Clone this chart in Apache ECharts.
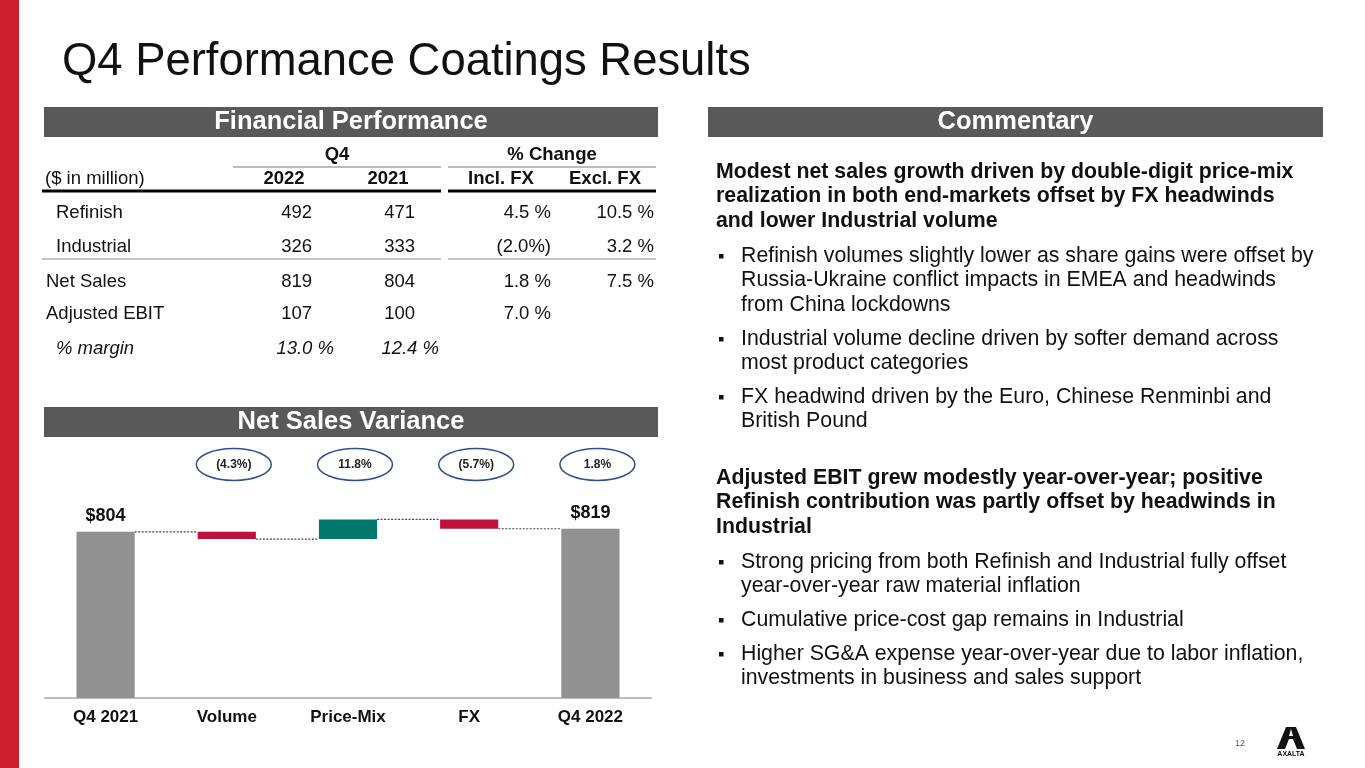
<!DOCTYPE html>
<html>
<head>
<meta charset="utf-8">
<script src="https://cdn.jsdelivr.net/npm/echarts@6/dist/echarts.min.js"></script>
<style>
html,body{margin:0;padding:0;background:#fff;}
#c{width:1365px;height:768px;}
</style>
</head>
<body>
<div id="c"></div>
<script>
// ---------- DATA ----------
const categories = ['Q4 2021', 'Volume', 'Price-Mix', 'FX', 'Q4 2022'];
const totals = [804, null, null, null, 819];
const deltas = [null, -35, 95, -45, null];
const pctLabels = [null, '(4.3%)', '11.8%', '(5.7%)', '1.8%'];

const tableGroupHeads = ['Q4', '% Change'];
const tableColHeads = ['($ in million)', '2022', '2021', 'Incl. FX', 'Excl. FX'];
const rowNames = ['Refinish', 'Industrial', 'Net Sales', 'Adjusted EBIT', '% margin'];
const col2022 = ['492', '326', '819', '107', '13.0 %'];
const col2021 = ['471', '333', '804', '100', '12.4 %'];
const colInclFx = ['4.5 %', '(2.0%)', '1.8 %', '7.0 %', ''];
const colExclFx = ['10.5 %', '3.2 %', '7.5 %', '', ''];

const titleText = 'Q4 Performance Coatings Results';
const sectionHeads = ['Financial Performance', 'Commentary', 'Net Sales Variance'];
const commentary = [
  {bold: true, lines: ['Modest net sales growth driven by double-digit price-mix', 'realization in both end-markets offset by FX headwinds', 'and lower Industrial volume']},
  {bold: false, lines: ['Refinish volumes slightly lower as share gains were offset by', 'Russia-Ukraine conflict impacts in EMEA and headwinds', 'from China lockdowns']},
  {bold: false, lines: ['Industrial volume decline driven by softer demand across', 'most product categories']},
  {bold: false, lines: ['FX headwind driven by the Euro, Chinese Renminbi and', 'British Pound']},
  {bold: true, lines: ['Adjusted EBIT grew modestly year-over-year; positive', 'Refinish contribution was partly offset by headwinds in', 'Industrial']},
  {bold: false, lines: ['Strong pricing from both Refinish and Industrial fully offset', 'year-over-year raw material inflation']},
  {bold: false, lines: ['Cumulative price-cost gap remains in Industrial']},
  {bold: false, lines: ['Higher SG&A expense year-over-year due to labor inflation,', 'investments in business and sales support']}
];
const pageNumber = '12';

// ---------- LAYOUT / STYLE ----------
const FONT = "'Liberation Sans', Arial, 'DejaVu Sans', sans-serif";
const C_GRAY = '#919191', C_RED = '#C10F3E', C_TEAL = '#00786C', C_HEAD = '#595959';

// waterfall computation
const base = [], height = [], colors = [], levels = [];
let running = 0;
categories.forEach((c, i) => {
  if (totals[i] != null) {
    base.push(0); height.push(totals[i]); colors.push(C_GRAY); running = totals[i];
  } else {
    const s = running, e = running + deltas[i];
    base.push(Math.min(s, e)); height.push(Math.abs(deltas[i]));
    colors.push(deltas[i] < 0 ? C_RED : C_TEAL); running = e;
  }
  levels.push(running);
});
const BAR_FRAC = 0.48;

// ---------- GRAPHIC (slide elements) ----------
const g = [];
g.push({type: 'rect', shape: {x: 0, y: 0, width: 19, height: 768}, style: {fill: '#CC1F2D'}});
g.push({type: 'text', x: 62, y: 62, style: {text: titleText, font: '45.4px ' + FONT, fill: '#111', align: 'left', verticalAlign: 'middle'}});

const heads = [[44, 107, 614, sectionHeads[0]], [708, 107, 615, sectionHeads[1]], [44, 407, 614, sectionHeads[2]]];
heads.forEach(h => {
  g.push({type: 'rect', shape: {x: h[0], y: h[1], width: h[2], height: 30}, style: {fill: C_HEAD}});
  g.push({type: 'text', x: h[0] + h[2] / 2, y: h[1] + 15, style: {text: h[3], font: 'bold 25.5px ' + FONT, fill: '#fff', align: 'center', verticalAlign: 'middle'}});
});

// table
const tf = '18.5px ' + FONT, tfb = 'bold 18.5px ' + FONT;
function T(x, y, txt, font, align) {
  g.push({type: 'text', x: x, y: y, style: {text: txt, font: font, fill: '#111', align: align, verticalAlign: 'middle'}});
}
T(337, 155, tableGroupHeads[0], tfb, 'center');
T(552, 155, tableGroupHeads[1], tfb, 'center');
g.push({type: 'line', shape: {x1: 233, y1: 167, x2: 441, y2: 167}, style: {stroke: '#A6A6A6', lineWidth: 1.5}});
g.push({type: 'line', shape: {x1: 448, y1: 167, x2: 656, y2: 167}, style: {stroke: '#A6A6A6', lineWidth: 1.5}});
T(45, 179, tableColHeads[0], tf, 'left');
T(284, 179, tableColHeads[1], tfb, 'center');
T(388, 179, tableColHeads[2], tfb, 'center');
T(501, 179, tableColHeads[3], tfb, 'center');
T(605, 179, tableColHeads[4], tfb, 'center');
g.push({type: 'line', shape: {x1: 42, y1: 191, x2: 441, y2: 191}, style: {stroke: '#000', lineWidth: 3}});
g.push({type: 'line', shape: {x1: 448, y1: 191, x2: 656, y2: 191}, style: {stroke: '#000', lineWidth: 3}});
g.push({type: 'line', shape: {x1: 42, y1: 259, x2: 441, y2: 259}, style: {stroke: '#8C8C8C', lineWidth: 1.2}});
g.push({type: 'line', shape: {x1: 448, y1: 259, x2: 656, y2: 259}, style: {stroke: '#8C8C8C', lineWidth: 1.2}});
const rowY = [213, 247, 282, 314, 349];
const rowIndent = [56, 56, 46, 46, 56];
rowNames.forEach((r, i) => {
  const italic = i === 4;
  const f = (italic ? 'italic ' : '') + tf;
  T(rowIndent[i], rowY[i], r, f, 'left');
  T(italic ? 334 : 312, rowY[i], col2022[i], f, 'right');
  T(italic ? 439 : 415, rowY[i], col2021[i], f, 'right');
  if (colInclFx[i]) T(551, rowY[i], colInclFx[i], f, 'right');
  if (colExclFx[i]) T(654, rowY[i], colExclFx[i], f, 'right');
});

// commentary
const blockY = [172, 256, 339, 397, 478, 562, 620, 654];
commentary.forEach((b, i) => {
  const lh = 24.5;
  const x = b.bold ? 716 : 741;
  g.push({type: 'text', x: x, y: blockY[i] - lh / 2, style: {text: b.lines.join('\n'), font: (b.bold ? 'bold ' : '') + '21.3px ' + FONT, fill: '#111', align: 'left', verticalAlign: 'top', lineHeight: lh}});
  if (!b.bold) {
    g.push({type: 'rect', shape: {x: 719, y: blockY[i] - 2, width: 4.5, height: 4.5}, style: {fill: '#111'}});
  }
});

// footer
g.push({type: 'text', x: 1240, y: 744, style: {text: pageNumber, font: '9px ' + FONT, fill: '#595959', align: 'center', verticalAlign: 'middle'}});
g.push({type: 'polygon', shape: {points: [[1277, 749], [1286, 727], [1296, 727], [1305, 749], [1297, 749], [1293, 739], [1289, 739], [1285, 749]]}, style: {fill: '#111'}});
g.push({type: 'polygon', shape: {points: [[1289, 736], [1291, 729], [1293, 736]]}, style: {fill: '#fff'}});
g.push({type: 'text', x: 1291, y: 754, style: {text: 'AXALTA', font: 'bold 7px ' + FONT, fill: '#111', align: 'center', verticalAlign: 'middle'}});

// ---------- CHART ----------
const chart = echarts.init(document.getElementById('c'));
chart.setOption({
  backgroundColor: '#fff',
  animation: false,
  graphic: g,
  grid: {left: 45, right: 714, top: 450, bottom: 70},
  xAxis: {
    type: 'category', data: categories,
    axisLine: {lineStyle: {color: '#BDBDBD', width: 2}},
    axisTick: {show: false},
    axisLabel: {fontFamily: FONT, fontSize: 17, fontWeight: 'bold', color: '#111', margin: 11}
  },
  yAxis: {type: 'value', min: 0, max: 1200, show: false, splitLine: {show: false}},
  series: [
    {type: 'bar', stack: 'w', data: base, barWidth: (BAR_FRAC * 100) + '%', itemStyle: {color: 'transparent'}, silent: true},
    {
      type: 'bar', stack: 'w', barWidth: (BAR_FRAC * 100) + '%',
      data: height.map((v, i) => ({
        value: v,
        itemStyle: {color: colors[i]},
        label: {show: totals[i] != null, formatter: '$' + (totals[i] != null ? totals[i] : ''), position: 'top', distance: 7,
          fontFamily: FONT, fontSize: 18, fontWeight: 'bold', color: '#111'}
      }))
    },
    {
      type: 'custom', silent: true,
      data: levels.slice(0, levels.length - 1).map((v, i) => [i, v]),
      renderItem: function (params, api) {
        const p = api.coord([api.value(0), api.value(1)]);
        const bw = api.size([1, 0])[0];
        const half = bw * BAR_FRAC / 2;
        return {type: 'line', shape: {x1: p[0] + half, y1: p[1], x2: p[0] + bw - half, y2: p[1]},
          style: {stroke: '#444', lineWidth: 1.2, lineDash: [2, 1.5]}};
      }
    },
    {
      type: 'custom', silent: true,
      data: pctLabels.map((t, i) => t ? [i, 0] : null).filter(d => d),
      renderItem: function (params, api) {
        const idx = api.value(0);
        const p = api.coord([idx, 0]);
        const cx = p[0] + 7, cy = params.coordSys.y + 14.5;
        return {type: 'group', children: [
          {type: 'ellipse', shape: {cx: cx, cy: cy, rx: 37.5, ry: 16}, style: {fill: '#fff', stroke: '#2F4F8F', lineWidth: 1.5}},
          {type: 'text', x: cx, y: cy, style: {text: pctLabels[idx], font: 'bold 12px ' + FONT, fill: '#222', align: 'center', verticalAlign: 'middle'}}
        ]};
      }
    }
  ]
});
</script>
</body>
</html>
